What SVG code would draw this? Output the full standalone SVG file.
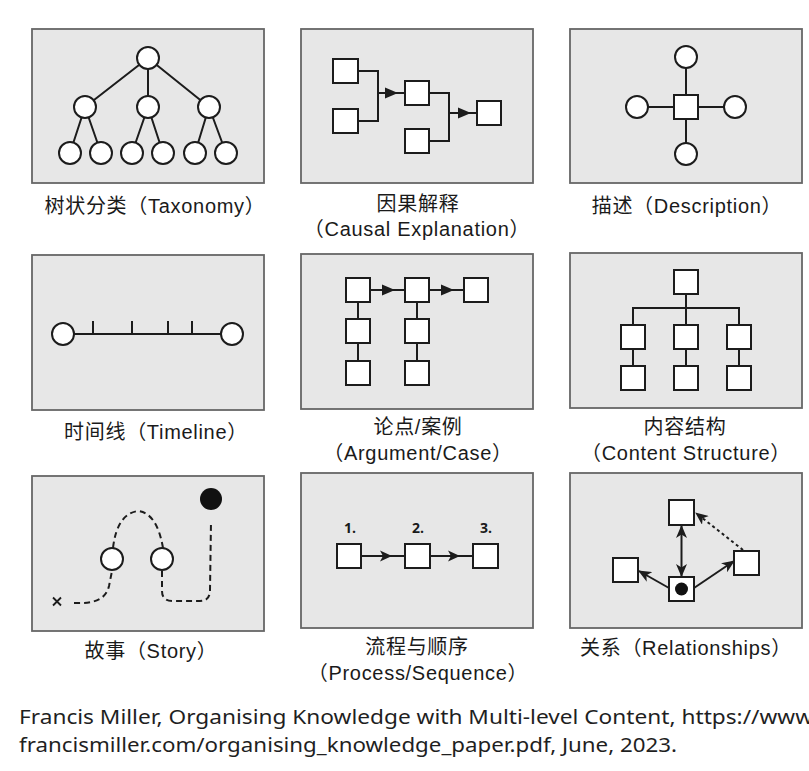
<svg xmlns="http://www.w3.org/2000/svg" xmlns:xlink="http://www.w3.org/1999/xlink" width="809" height="771" viewBox="0 0 809 771">
<style>
.bg{fill:#ffffff}
.panel{fill:#e7e7e7;stroke:#666666;stroke-width:1.8}
.ln{stroke:#1c1c1c;stroke-width:2;fill:none}
.nd{fill:#ffffff;stroke:#1c1c1c;stroke-width:2}
.dash{stroke:#1c1c1c;stroke-width:2;fill:none;stroke-dasharray:6 4}
.dot{stroke:#1c1c1c;stroke-width:2;fill:none;stroke-dasharray:3 3}
.lbl{font-family:"Liberation Sans","Noto Sans CJK SC",sans-serif;font-size:20px;letter-spacing:0.7px;fill:#1a1a1a;text-anchor:middle}
.num{font-family:"Open Sans","Liberation Sans",sans-serif;font-size:14px;font-weight:bold;fill:#1a1a1a;text-anchor:middle}
.foot{font-family:"Noto Sans","Open Sans",sans-serif;font-size:20px;fill:#1f1f1f}
.ah{fill:#1c1c1c}
</style>
<defs>
<polygon id="tri" points="-13,-5.5 0,0 -13,5.5" class="ah"/>
<path id="stl" d="M-12,-5.5 L0,0 L-12,5.5 L-9,0 Z" class="ah"/>
<marker id="st" viewBox="0 0 13 11" refX="12" refY="5.5" markerWidth="13" markerHeight="11" markerUnits="userSpaceOnUse" orient="auto-start-reverse">
<path d="M0,0 L13,5.5 L0,11 L3.5,5.5 Z" fill="#1c1c1c"/>
</marker>
</defs>
<rect class="bg" x="0" y="0" width="809" height="771"/>

<!-- Panel 1: Taxonomy -->
<g id="taxonomy">
<rect class="panel" x="32" y="29" width="232" height="154"/>
<g id="taxonomy-connectors">
<path class="ln" d="M148,58 L85,107 M148,58 L148,107 M148,58 L209,107 M85,107 L70,153 M85,107 L101,153 M148,107 L132,153 M148,107 L163,153 M209,107 L195,153 M209,107 L226,153"/>
</g>
<g id="tax-root"><circle class="nd" cx="148" cy="58" r="11"/></g>
<g id="tax-m1"><circle class="nd" cx="85" cy="107" r="11"/></g>
<g id="tax-m2"><circle class="nd" cx="148" cy="107" r="11"/></g>
<g id="tax-m3"><circle class="nd" cx="209" cy="107" r="11"/></g>
<g id="tax-l1"><circle class="nd" cx="70" cy="153" r="11"/></g>
<g id="tax-l2"><circle class="nd" cx="101" cy="153" r="11"/></g>
<g id="tax-l3"><circle class="nd" cx="132" cy="153" r="11"/></g>
<g id="tax-l4"><circle class="nd" cx="163" cy="153" r="11"/></g>
<g id="tax-l5"><circle class="nd" cx="195" cy="153" r="11"/></g>
<g id="tax-l6"><circle class="nd" cx="226" cy="153" r="11"/></g>
<text class="lbl" x="155" y="213">树状分类（Taxonomy）</text>
</g>

<!-- Panel 2: Causal Explanation -->
<g id="causal">
<rect class="panel" x="301" y="29" width="232" height="154"/>
<g id="causal-connectors">
<path class="ln" d="M358,71 L378,71 L378,121 L358,121 M378,93 L405,93 M429,93 L449,93 L449,141 L429,141 M449,113 L477,113"/>
<use xlink:href="#tri" x="398" y="93"/>
<use xlink:href="#tri" x="471" y="113"/>
</g>
<g id="causal-a"><rect class="nd" x="333" y="59" width="25" height="24"/></g>
<g id="causal-b"><rect class="nd" x="333" y="109" width="25" height="24"/></g>
<g id="causal-c"><rect class="nd" x="405" y="81" width="24" height="24"/></g>
<g id="causal-d"><rect class="nd" x="405" y="129" width="24" height="24"/></g>
<g id="causal-e"><rect class="nd" x="477" y="101" width="24" height="24"/></g>
<text class="lbl" x="418" y="211">因果解释</text>
<text class="lbl" x="417" y="236">（Causal Explanation）</text>
</g>

<!-- Panel 3: Description -->
<g id="description">
<rect class="panel" x="570" y="29" width="232" height="154"/>
<g id="description-connectors">
<path class="ln" d="M686,68 L686,143 M648,107 L724,107"/>
</g>
<g id="desc-center"><rect class="nd" x="674" y="95" width="24" height="24"/></g>
<g id="desc-top"><circle class="nd" cx="686" cy="57" r="11"/></g>
<g id="desc-bottom"><circle class="nd" cx="686" cy="154" r="11"/></g>
<g id="desc-left"><circle class="nd" cx="637" cy="107" r="11"/></g>
<g id="desc-right"><circle class="nd" cx="735" cy="107" r="11"/></g>
<text class="lbl" x="687" y="213">描述（Description）</text>
</g>

<!-- Panel 4: Timeline -->
<g id="timeline">
<rect class="panel" x="32" y="255" width="232" height="155"/>
<g id="timeline-connectors">
<path class="ln" d="M74,334 L221,334 M93,321 L93,334 M132,321 L132,334 M168,321 L168,334 M192,321 L192,334"/>
</g>
<g id="tl-start"><circle class="nd" cx="63" cy="334" r="11"/></g>
<g id="tl-end"><circle class="nd" cx="232" cy="334" r="11"/></g>
<text class="lbl" x="156" y="439">时间线（Timeline）</text>
</g>

<!-- Panel 5: Argument/Case -->
<g id="argument">
<rect class="panel" x="301" y="254" width="232" height="155"/>
<g id="argument-connectors">
<path class="ln" d="M370,290 L405,290 M430,290 L464,290 M358,302 L358,361 M417,302 L417,361"/>
<use xlink:href="#tri" x="395" y="290"/>
<use xlink:href="#tri" x="454" y="290"/>
</g>
<g id="arg-1"><rect class="nd" x="346" y="278" width="24" height="24"/></g>
<g id="arg-2"><rect class="nd" x="405" y="278" width="24" height="24"/></g>
<g id="arg-3"><rect class="nd" x="464" y="278" width="24" height="24"/></g>
<g id="arg-1a"><rect class="nd" x="346" y="319" width="24" height="24"/></g>
<g id="arg-1b"><rect class="nd" x="346" y="361" width="24" height="24"/></g>
<g id="arg-2a"><rect class="nd" x="405" y="319" width="24" height="24"/></g>
<g id="arg-2b"><rect class="nd" x="405" y="361" width="24" height="24"/></g>
<text class="lbl" x="418" y="434">论点/案例</text>
<text class="lbl" x="418" y="460">（Argument/Case）</text>
</g>

<!-- Panel 6: Content Structure -->
<g id="content">
<rect class="panel" x="570" y="253" width="232" height="155"/>
<g id="content-connectors">
<path class="ln" d="M686,294 L686,325 M633,325 L633,308 L739,308 L739,325 M633,349 L633,366 M686,349 L686,366 M739,349 L739,366"/>
</g>
<g id="cs-top"><rect class="nd" x="674" y="270" width="24" height="24"/></g>
<g id="cs-m1"><rect class="nd" x="621" y="325" width="24" height="24"/></g>
<g id="cs-m2"><rect class="nd" x="674" y="325" width="24" height="24"/></g>
<g id="cs-m3"><rect class="nd" x="727" y="325" width="24" height="24"/></g>
<g id="cs-b1"><rect class="nd" x="621" y="366" width="24" height="24"/></g>
<g id="cs-b2"><rect class="nd" x="674" y="366" width="24" height="24"/></g>
<g id="cs-b3"><rect class="nd" x="727" y="366" width="24" height="24"/></g>
<text class="lbl" x="685" y="434">内容结构</text>
<text class="lbl" x="686" y="460">（Content Structure）</text>
</g>

<!-- Panel 7: Story -->
<g id="story">
<rect class="panel" x="32" y="476" width="232" height="155"/>
<g id="story-connectors">
<path class="dash" d="M74,603 C95,604 106,599 109,586 L112,571"/>
<path class="dash" d="M113,548 Q117,514 138,511 Q157,513 163,548"/>
<path class="dash" d="M162,571 L162,591 Q162,601 173,601 L200,601 Q210,601 210,590 L211,521"/>
<path class="ln" style="stroke-width:1.8" d="M53,597.5 L61,605.5 M61,597.5 L53,605.5"/>
</g>
<g id="story-c1"><circle class="nd" cx="112" cy="559" r="11"/></g>
<g id="story-c2"><circle class="nd" cx="162" cy="559" r="11"/></g>
<g id="story-end"><circle cx="211" cy="499" r="11" fill="#111111"/></g>
<text class="lbl" x="151" y="658">故事（Story）</text>
</g>

<!-- Panel 8: Process/Sequence -->
<g id="process">
<rect class="panel" x="301" y="473" width="232" height="155"/>
<g id="process-connectors">
<path class="ln" d="M362,556 L405,556 M430,556 L473,556"/>
<use xlink:href="#stl" x="392" y="556"/>
<use xlink:href="#stl" x="460" y="556"/>
</g>
<g id="proc-1"><rect class="nd" x="337" y="544" width="24" height="24"/><text class="num" x="350" y="533">1.</text></g>
<g id="proc-2"><rect class="nd" x="405" y="544" width="25" height="24"/><text class="num" x="418" y="533">2.</text></g>
<g id="proc-3"><rect class="nd" x="473" y="544" width="25" height="24"/><text class="num" x="486" y="533">3.</text></g>
<text class="lbl" x="417" y="654">流程与顺序</text>
<text class="lbl" x="418" y="680">（Process/Sequence）</text>
</g>

<!-- Panel 9: Relationships -->
<g id="relationships">
<rect class="panel" x="570" y="473" width="232" height="155"/>
<g id="relationships-connectors">
<path class="ln" d="M681.5,576 L681.5,526" marker-start="url(#st)" marker-end="url(#st)"/>
<path class="ln" d="M669,588 L639,571" marker-end="url(#st)"/>
<path class="ln" d="M694,588 L734,561" marker-end="url(#st)"/>
<path class="dot" d="M743,550 L696,513" marker-end="url(#st)"/>
</g>
<g id="rel-top"><rect class="nd" x="669" y="500" width="25" height="25"/></g>
<g id="rel-left"><rect class="nd" x="613" y="558" width="25" height="24"/></g>
<g id="rel-right"><rect class="nd" x="734" y="551" width="25" height="24"/></g>
<g id="rel-center"><rect class="nd" x="669" y="577" width="25" height="24"/><circle cx="681.5" cy="589" r="6.5" fill="#111111"/></g>
<text class="lbl" x="686" y="655">关系（Relationships）</text>
</g>

<!-- Footer -->
<text class="foot" x="19" y="724" textLength="794" lengthAdjust="spacingAndGlyphs">Francis Miller, Organising Knowledge with Multi-level Content, https://www</text>
<text class="foot" x="19" y="752" textLength="658" lengthAdjust="spacingAndGlyphs">francismiller.com/organising_knowledge_paper.pdf, June, 2023.</text>
</svg>
